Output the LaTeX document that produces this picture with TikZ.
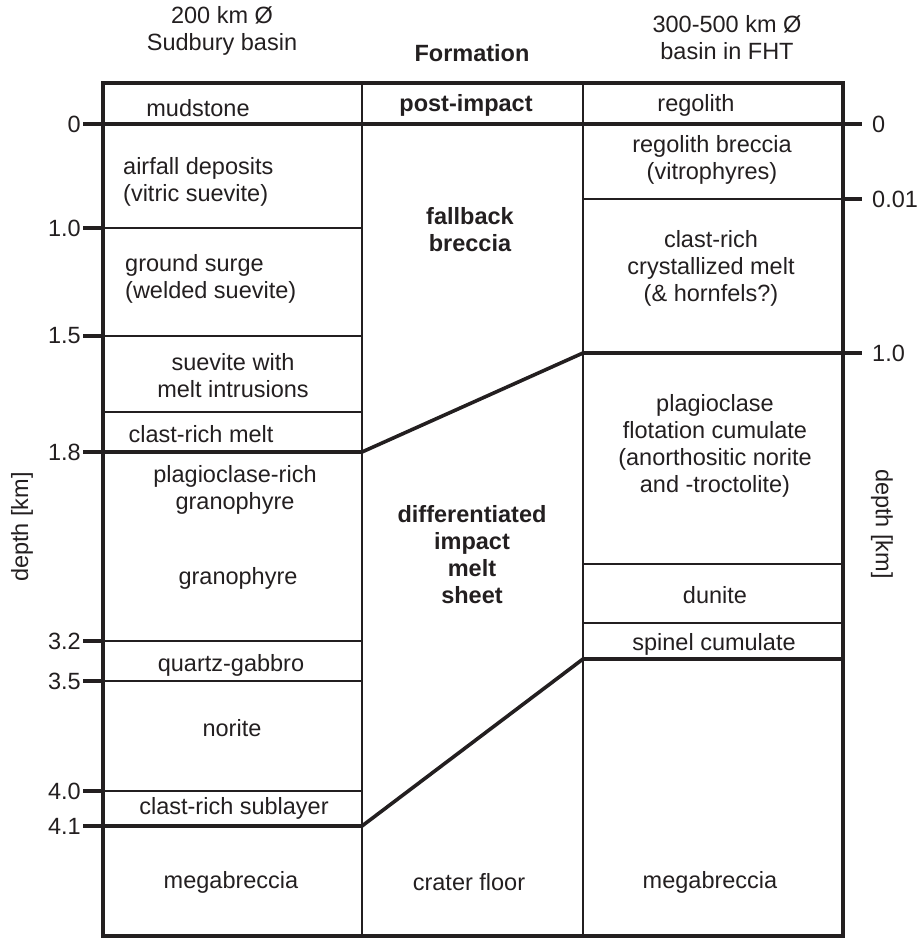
\documentclass[tikz,border=0pt]{standalone}
\usepackage{fontspec}
\setmainfont{Liberation Sans}
\definecolor{ink}{HTML}{231F20}
\begin{document}
\begin{tikzpicture}[x=1pt,y=-1pt,
  every node/.style={font=\fontsize{23.5}{27}\selectfont, text=ink, inner sep=0pt, align=center},
  bld/.style={font=\fontsize{23.5}{27}\selectfont\bfseries},
  thk/.style={line width=3.6pt, draw=ink},
  thn/.style={line width=2pt, draw=ink},
  lft/.style={align=left, anchor=west}]
\useasboundingbox (0,0) rectangle (917,941);
% coordinates
\coordinate (TL) at (103,83);
\coordinate (BR) at (843,936);
% thin lines
\draw[thn] (362,83) -- (362,936);
\draw[thn] (583,83) -- (583,936);
\foreach \y in {228,336,412,641,681,791} \draw[thn] (103,\y) -- (362,\y);
\foreach \y in {199,564,623} \draw[thn] (583,\y) -- (843,\y);
% thick lines
\draw[thk] (103,124) -- (843,124);
\coordinate (m1) at (362,452);
\coordinate (m2) at (583,353);
\coordinate (f1) at (362,826);
\coordinate (f2) at (583,659);
\draw[thk, line join=miter] (103,452) -- (m1) -- (m2) -- (843,353);
\draw[thk, line join=miter] (103,826) -- (f1) -- (f2) -- (843,659);
\draw[thk] (TL) rectangle (BR);
% ticks
\foreach \y/\t [count=\i] in {124/0,228/1.0,336/1.5,452/1.8,641/3.2,681/3.5,791/4.0,826/4.1}{
  \draw[thk] (83,\y) -- (103,\y);
  \node[anchor=east] (lt\i) at (81,\y) {\t};
}
\foreach \y/\t [count=\i] in {124/0,199/0.01,353/1.0}{
  \draw[thk] (843,\y) -- (862,\y);
  \node[anchor=west] (rt\i) at (872,\y) {\t};
}
% axis labels
\node[rotate=90] (dl) at (22,527) {depth [km]};
\node[rotate=-90] (dr) at (882,524) {depth [km]};
% headers
\node (h1) at (222,30.5) {200 km Ø\\Sudbury basin};
\node[bld] (h2) at (472,53) {Formation};
\node (h3) at (727,37.5) {300-500 km Ø\\basin in FHT};
% left column
\node (l1) at (198,108) {mudstone};
\node[lft] (l2) at (123,181.5) {airfall deposits\\(vitric suevite)};
\node[lft] (l3) at (125,278.5) {ground surge\\(welded suevite)};
\node (l4) at (233,375.5) {suevite with\\melt intrusions};
\node (l5) at (201,434) {clast-rich melt};
\node (l6) at (235,490) {plagioclase-rich\\granophyre};
\node (l7) at (238,578) {granophyre};
\node (l8) at (231,665) {quartz-gabbro};
\node (l9) at (232,728) {norite};
\node (l10) at (234,808) {clast-rich sublayer};
\node (l11) at (231,882) {megabreccia};
% middle column
\node[bld] (c1) at (466,105) {post-impact};
\node[bld] (c2) at (470,229.5) {fallback\\breccia};
\node[bld] (c3) at (472,555) {differentiated\\impact\\melt\\sheet};
\node (c4) at (469,882) {crater floor};
% right column
\node (r1) at (696,105) {regolith};
\node (r2) at (712,160) {regolith breccia\\(vitrophyres)};
\node (r3) at (711,268.5) {clast-rich\\crystallized melt\\(\& hornfels?)};
\node (r4) at (715,445.5) {plagioclase\\flotation cumulate\\(anorthositic norite\\and -troctolite)};
\node (r5) at (715,595) {dunite};
\node (r6) at (714,644) {spinel cumulate};
\node (r7) at (710,882) {megabreccia};
\end{tikzpicture}
\end{document}
